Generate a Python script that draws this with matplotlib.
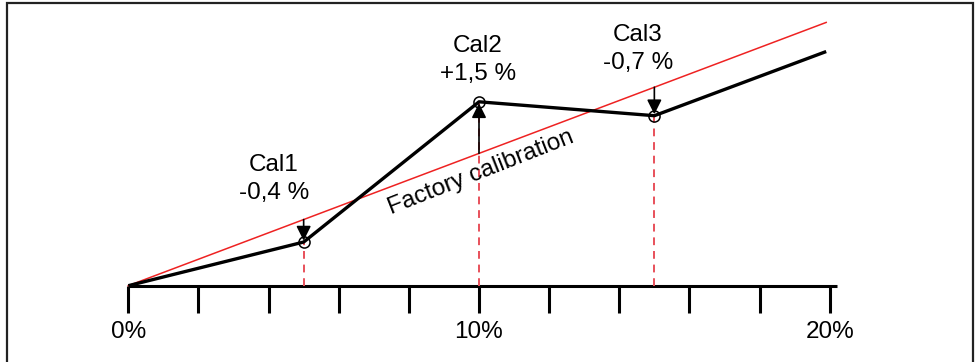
import numpy as np
import matplotlib.pyplot as plt
from matplotlib.patches import Rectangle

plt.rcParams['font.family'] = ['Liberation Sans', 'DejaVu Sans']

# Data (x in %, y on the same scale as the factory line)
meas_x = [0, 5, 10, 15, 19.9]
meas_y = [0, 3.3, 13.9, 12.85, 17.7]
factory_x = [0, 19.9]
factory_y = [0, 19.9]
cal_x = [5, 10, 15]
cal_y = [3.3, 13.9, 12.85]
cal_labels = ['Cal1\n-0,4 %', 'Cal2\n+1,5 %', 'Cal3\n-0,7 %']
tick_pos = np.arange(0, 21, 2)
label_pos = [0, 10, 20]
label_txt = ['0%', '10%', '20%']

# pixel mapping of the original drawing
X0, XS = 128.3, 35.07
Y0, YS = 285.7, 13.23
W, H = 978, 362


def px(x, y):
    return ((x - X0) / XS, (Y0 - y) / YS)


fig = plt.figure(figsize=(W / 100, H / 100), dpi=100)
ax = fig.add_axes([0, 0, 1, 1])
ax.set_xlim(-X0 / XS, (W - X0) / XS)
ax.set_ylim(-(H - Y0) / YS, Y0 / YS)
ax.axis('off')

# frame
fig.patches.append(Rectangle((7 / W, -0.1), (973 - 7) / W, 1.1 - 3 / H,
                             transform=fig.transFigure, fill=False,
                             lw=1.6, ec='#222222'))

# axis with ticks
ax.plot([0, 20.2], [0, 0], color='black', lw=2.2, solid_capstyle='butt')
tick_len = 27 / YS
ax.vlines(tick_pos, -tick_len, 0, color='black', lw=2.2)
for p, t in zip(label_pos, label_txt):
    ax.text(p, px(0, 332)[1], t, ha='center', va='center', fontsize=17.5)

# dashed drops
ax.vlines(cal_x, 0, cal_y, color='#e8505a', lw=1.4, linestyles=(0, (4, 3)))

# lines
ax.plot(factory_x, factory_y, color='#ee2222', lw=1.1)
ax.plot(meas_x, meas_y, color='black', lw=2.4, solid_capstyle='butt')
ax.plot(cal_x, cal_y, 'o', ms=8, mfc='none', mec='black', mew=1.1)

# arrows from factory line to calibration point
for x, y in zip(cal_x, cal_y):
    ax.annotate('', xy=(x, y), xytext=(x, x),
                arrowprops=dict(arrowstyle='-|>', color='black', lw=1.2,
                                mutation_scale=22, shrinkA=0, shrinkB=1))

# labels
label_px = [(274, 179), (478, 60), (638, 49)]
for (lx, ly), t in zip(label_px, cal_labels):
    tx, ty = px(lx, ly)
    ax.text(tx, ty, t, ha='center', va='center', fontsize=17.5,
            linespacing=1.3)

tx, ty = px(481, 173)
ax.text(tx, ty, 'Factory calibration', ha='center', va='center',
        fontsize=17.5, rotation=21.5, rotation_mode='anchor')

fig.savefig('out.png', dpi=100)
